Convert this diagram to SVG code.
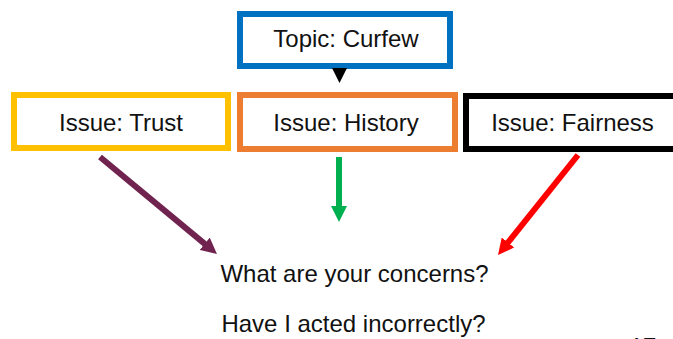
<svg xmlns="http://www.w3.org/2000/svg" width="673" height="339" viewBox="0 0 673 339">
<style>
  .box { fill: #ffffff; stroke-width: 6; }
  .lbl { font-family: "Liberation Sans", Arial, sans-serif; font-size: 24px; fill: #111111; text-anchor: middle; }
  .conn { stroke-width: 6; fill: none; }
</style>
<defs>
  <marker id="hPurple" markerUnits="userSpaceOnUse" markerWidth="16" markerHeight="16" viewBox="0 0 16 16" refX="8" refY="8" orient="auto"><path d="M0,0 L16,8 L0,16 z" fill="#70234f"/></marker>
  <marker id="hGreen" markerUnits="userSpaceOnUse" markerWidth="16" markerHeight="16" viewBox="0 0 16 16" refX="8" refY="8" orient="auto"><path d="M0,0 L16,8 L0,16 z" fill="#00b050"/></marker>
  <marker id="hRed" markerUnits="userSpaceOnUse" markerWidth="16" markerHeight="16" viewBox="0 0 16 16" refX="8" refY="8" orient="auto"><path d="M0,0 L16,8 L0,16 z" fill="#ff0000"/></marker>
</defs>
<rect width="673" height="339" fill="#ffffff"/>

<g id="topic">
  <rect class="box" x="240" y="14" width="210" height="52" stroke="#0070c0"/>
  <text class="lbl" x="346" y="47">Topic: Curfew</text>
</g>
<g id="trust">
  <rect class="box" x="14" y="95" width="214" height="53" stroke="#ffc000"/>
  <text class="lbl" x="121" y="131">Issue: Trust</text>
</g>
<g id="history">
  <rect class="box" x="240" y="95" width="215" height="54" stroke="#ed7d31"/>
  <text class="lbl" x="346" y="131">Issue: History</text>
</g>
<g id="fairness">
  <rect class="box" x="466" y="96" width="220" height="53" stroke="#000000" stroke-width="7"/>
  <text class="lbl" x="572.5" y="131">Issue: Fairness</text>
</g>

<g id="connectors">
  <polygon points="332,68 347,68 339.5,83" fill="#000000"/>
  <line class="conn" x1="100" y1="157" x2="210.8" y2="248.9" stroke="#70234f" marker-end="url(#hPurple)"/>
  <line class="conn" x1="339" y1="157" x2="339" y2="214" stroke="#00b050" marker-end="url(#hGreen)"/>
  <line class="conn" x1="578" y1="155" x2="503" y2="248.75" stroke="#ff0000" marker-end="url(#hRed)"/>
</g>

<g id="questions">
  <text class="lbl" x="354.5" y="282">What are your concerns?</text>
  <text class="lbl" x="353.5" y="332">Have I acted incorrectly?</text>
</g>
<text class="lbl" x="643" y="355" fill="#444444">17</text>
</svg>
